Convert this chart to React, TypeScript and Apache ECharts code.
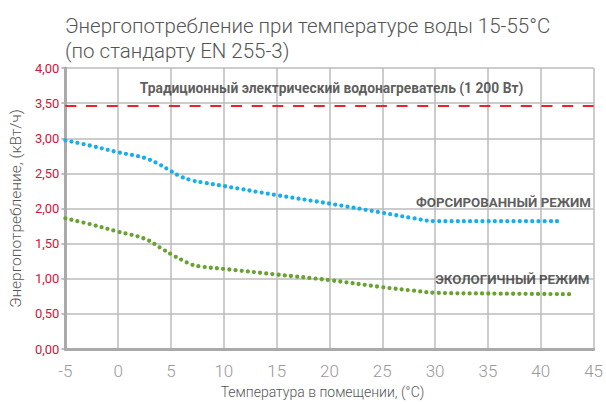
import React, { useEffect, useRef } from "react";
import * as echarts from "echarts";

const titleLines = ["Энергопотребление при температуре воды 15-55°C", "(по стандарту EN 255-3)"];
const xAxisName = "Температура в помещении, (°C)";
const yAxisName = "Энергопотребление, (кВт/ч)";

const forcedX = [-5, -2.5, 0, 2.5, 4, 5, 6, 7, 8, 10, 15, 20, 25, 28, 30, 35, 42];
const forcedY = [2.97, 2.89, 2.8, 2.72, 2.62, 2.53, 2.45, 2.4, 2.37, 2.32, 2.19, 2.07, 1.94, 1.86, 1.82, 1.82, 1.82];

const ecoX = [-5, -2.5, 0, 2.5, 4, 5, 6, 7, 8, 10, 15, 20, 25, 28, 30, 35, 42.7];
const ecoY = [1.86, 1.77, 1.67, 1.57, 1.44, 1.35, 1.27, 1.2, 1.17, 1.14, 1.06, 0.98, 0.88, 0.83, 0.8, 0.79, 0.78];

const traditionalValue = 3.46;
const traditionalLabel = "Традиционный электрический водонагреватель (1 200 Вт)";
const forcedLabel = "ФОРСИРОВАННЫЙ РЕЖИМ";
const ecoLabel = "ЭКОЛОГИЧНЫЙ РЕЖИМ";

const xMin = -5, xMax = 45, xStep = 5;
const yMin = 0, yMax = 4, yStep = 0.5;

const FONT = "Roboto";

export default function App() {
  const ref = useRef<HTMLDivElement>(null);
  useEffect(() => {
    if (!ref.current) return;
    const chart = echarts.init(ref.current, undefined, { renderer: "svg" });
    const dotted = (color: string) => ({
      width: 4.3,
      type: [0, 6.2],
      cap: "round",
      color,
    });
    chart.setOption({
      animation: false,
      backgroundColor: "#fff",
      textStyle: { fontFamily: FONT },
      title: {
        text: titleLines.join("\n"),
        left: 60,
        top: 8,
        textStyle: { fontFamily: FONT, fontWeight: 300, fontSize: 20.5, color: "#555", lineHeight: 25 },
      },
      grid: { left: 61, right: 11, top: 68, bottom: 49 },
      xAxis: {
        type: "value",
        min: xMin,
        max: xMax,
        interval: xStep,
        name: xAxisName,
        nameLocation: "middle",
        nameGap: 36,
        nameTextStyle: { fontFamily: FONT, fontSize: 14, color: "#555", fontWeight: 300, padding: [0, 14, 0, 0] },
        axisLine: { show: true, onZero: false, lineStyle: { color: "#aaa", width: 3 } },
        axisTick: { show: false },
        axisLabel: { fontFamily: FONT, fontSize: 17, color: "#999", fontWeight: 300, margin: 13 },
        splitLine: { show: true, lineStyle: { color: "#bbb", width: 1.5 } },
      },
      yAxis: {
        type: "value",
        min: yMin,
        max: yMax,
        interval: yStep,
        name: yAxisName,
        nameLocation: "middle",
        nameGap: 40,
        nameTextStyle: { fontFamily: FONT, fontSize: 15.5, color: "#555", fontWeight: 300 },
        axisLine: { show: true, onZero: false, lineStyle: { color: "#aaa", width: 3 } },
        axisTick: { show: true, length: 4, lineStyle: { color: "#aaa", width: 1.5 } },
        axisLabel: {
          fontFamily: FONT,
          fontSize: 13,
          color: "#d2143a",
          margin: 6,
          formatter: (v: number) => v.toFixed(2).replace(".", ","),
        },
        splitLine: { show: true, lineStyle: { color: "#bbb", width: 1.5 } },
      },
      series: [
        {
          type: "line",
          name: "traditional",
          data: [[xMin, traditionalValue], [xMax, traditionalValue]],
          symbol: "none",
          lineStyle: { color: "#e8212b", width: 2, type: [11, 9.7] },
          silent: true,
          z: 3,
        },
        {
          type: "line",
          name: "forced",
          data: forcedX.map((x, i) => [x, forcedY[i]]),
          smooth: 0.4,
          symbol: "none",
          lineStyle: dotted("#18aeea"),
          z: 4,
        },
        {
          type: "line",
          name: "eco",
          data: ecoX.map((x, i) => [x, ecoY[i]]),
          smooth: 0.4,
          symbol: "none",
          lineStyle: dotted("#6aa232"),
          z: 4,
        },
        {
          type: "scatter",
          symbolSize: 0,
          silent: true,
          data: [
            { value: [20.2, 3.72], label: { show: true, position: "inside", formatter: traditionalLabel, fontSize: 13.8 } },
            { value: [44.75, 2.09], label: { show: true, position: "left", distance: 0, formatter: forcedLabel } },
            { value: [44.6, 0.99], label: { show: true, position: "left", distance: 0, formatter: ecoLabel } },
          ],
          label: { fontFamily: FONT, fontWeight: "bold", fontSize: 13.3, color: "#333" },
          z: 5,
        },
      ],
    });
    return () => chart.dispose();
  }, []);
  return <div ref={ref} style={{ position: "fixed", left: 0, top: 0, width: 606, height: 404 }} />;
}
